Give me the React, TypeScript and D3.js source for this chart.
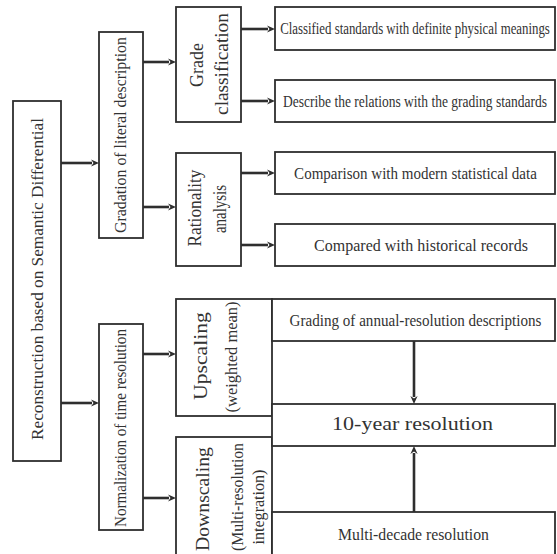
import React, { useLayoutEffect, useRef } from 'react';
import * as d3 from 'd3';

// Labels of the flowchart, level by level
const rootLabel = ['Reconstruction based on Semantic Differential'];
const branchLabels = ['Gradation of literal description', 'Normalization of time resolution'];
const methodLabels = [
  ['Grade', 'classification'],
  ['Rationality', 'analysis'],
  ['Upscaling', '(weighted mean)'],
  ['Downscaling', '(Multi-resolution', 'integration)'],
];
const leafLabels = [
  'Classified standards with definite physical meanings',
  'Describe the relations with the grading standards',
  'Comparison with modern statistical data',
  'Compared with historical records',
];
const resolutionLabels = [
  'Grading of annual-resolution descriptions',
  '10-year resolution',
  'Multi-decade resolution',
];

const W = 557;
const H = 554;
const INK = '#2e2e2e';
const FONT = "'Liberation Serif', 'Times New Roman', Times, serif";

type Box = { x0: number; x1: number; y0: number; y1: number };

// layout (pixels)
const rootBox: Box = { x0: 13, x1: 61, y0: 101, y1: 461 };
const branchBoxes: Box[] = [
  { x0: 99, x1: 143, y0: 32, y1: 238 },
  { x0: 99, x1: 143, y0: 324, y1: 530 },
];
const methodBoxes: Box[] = [
  { x0: 176, x1: 241, y0: 7, y1: 122 },
  { x0: 176, x1: 241, y0: 153, y1: 266 },
  { x0: 176, x1: 272, y0: 299, y1: 416 },
  { x0: 176, x1: 272, y0: 437, y1: 570 },
];
const leafBoxes: Box[] = [
  { x0: 275, x1: 555, y0: 7, y1: 50 },
  { x0: 275, x1: 555, y0: 80, y1: 122 },
  { x0: 275, x1: 555, y0: 152, y1: 194 },
  { x0: 275, x1: 555, y0: 224, y1: 266 },
];
const resolutionBoxes: Box[] = [
  { x0: 272, x1: 555, y0: 299, y1: 341 },
  { x0: 272, x1: 555, y0: 404, y1: 446 },
  { x0: 272, x1: 555, y0: 512, y1: 570 },
];

// vertical text: [centerX, centerY, length, fontSize]
const rootText = [[37, 279, 322, 17]];
const branchText = [
  [[121, 135, 196, 16]],
  [[121, 428, 198, 16]],
];
const methodText = [
  [[197, 65, 44, 18], [222, 64, 102, 18]],
  [[195, 208, 77, 18], [220, 209, 48, 18]],
  [[201, 356, 88, 19], [232, 357, 111, 16]],
  [[203, 499, 104, 19], [238, 497, 108, 16], [259, 507, 75, 16]],
];
// horizontal text: [centerX, centerY, length, fontSize]
const leafText = [
  [415, 28.5, 270, 17],
  [415, 101, 264, 17],
  [415.5, 173, 243, 17],
  [421, 245, 214, 17],
];
const resolutionText = [
  [415.5, 320, 252, 17],
  [412.5, 424, 161, 19],
  [413.5, 534, 151, 17],
];

// arrows: [x0, y0, x1, y1]
const arrows = [
  [61, 163, 99, 163],
  [61, 403, 99, 403],
  [143, 62, 176, 62],
  [143, 207, 176, 207],
  [143, 354, 176, 354],
  [143, 498, 176, 498],
  [241, 29, 275, 29],
  [241, 101, 275, 101],
  [241, 173, 275, 173],
  [241, 245, 275, 245],
  [414, 341, 414, 404],
  [414, 512, 414, 446],
];

const line = d3.line<[number, number]>();

const Arrow: React.FC<{ a: number[] }> = ({ a }) => {
  const [x0, y0, x1, y1] = a;
  const ang = Math.atan2(y1 - y0, x1 - x0);
  const hl = 8;
  const hw = 3.6;
  const bx = x1 - hl * Math.cos(ang);
  const by = y1 - hl * Math.sin(ang);
  const px = -Math.sin(ang) * hw;
  const py = Math.cos(ang) * hw;
  const head = line([
    [x1, y1],
    [bx + px, by + py],
    [bx + 2.5 * Math.cos(ang), by + 2.5 * Math.sin(ang)],
    [bx - px, by - py],
  ])! + 'Z';
  return (
    <g>
      <path d={line([[x0, y0], [bx + Math.cos(ang), by + Math.sin(ang)]])!} stroke={INK} strokeWidth={2.6} fill="none" />
      <path d={head} fill={INK} stroke="none" />
    </g>
  );
};

const Rect: React.FC<{ b: Box }> = ({ b }) => (
  <rect x={b.x0} y={b.y0} width={b.x1 - b.x0} height={b.y1 - b.y0} fill="#fff" stroke={INK} strokeWidth={1.8} />
);

// text is squeezed horizontally after measuring (see effect below)
const Label: React.FC<{ t: number[]; s: string; vertical?: boolean }> = ({ t, s, vertical }) => {
  const [cx, cy, len, fs] = t;
  return (
    <text
      className="lbl"
      data-cx={cx}
      data-cy={cy}
      data-len={len}
      data-rot={vertical ? -90 : 0}
      transform={`translate(${cx},${cy})${vertical ? ' rotate(-90)' : ''}`}
      textAnchor="middle"
      dy="0.33em"
      style={{ fontFamily: FONT, fontSize: fs + 'px' }}
      fill="#333"
    >
      {s}
    </text>
  );
};

export default function App() {
  const svgRef = useRef<SVGSVGElement>(null);

  useLayoutEffect(() => {
    if (!svgRef.current) return;
    d3.select(svgRef.current)
      .selectAll<SVGTextElement, unknown>('text.lbl')
      .each(function () {
        const el = d3.select(this);
        const natural = this.getComputedTextLength();
        const len = +el.attr('data-len');
        const k = natural > 0 ? len / natural : 1;
        const rot = +el.attr('data-rot');
        el.attr(
          'transform',
          `translate(${el.attr('data-cx')},${el.attr('data-cy')})${rot ? ` rotate(${rot})` : ''} scale(${k},1)`
        );
      });
  }, []);

  return (
    <svg ref={svgRef} width={W} height={H} style={{ position: 'absolute', left: 0, top: 0, background: '#fff' }}>
      <Rect b={rootBox} />
      {branchBoxes.map((b, i) => <Rect key={'b' + i} b={b} />)}
      {methodBoxes.map((b, i) => <Rect key={'m' + i} b={b} />)}
      {leafBoxes.map((b, i) => <Rect key={'l' + i} b={b} />)}
      {resolutionBoxes.map((b, i) => <Rect key={'r' + i} b={b} />)}

      {rootLabel.map((s, i) => <Label key={'rt' + i} t={rootText[i]} s={s} vertical />)}
      {branchLabels.map((s, i) => <Label key={'bt' + i} t={branchText[i][0]} s={s} vertical />)}
      {methodLabels.map((lines, i) =>
        lines.map((s, j) => <Label key={`mt${i}-${j}`} t={methodText[i][j]} s={s} vertical />)
      )}
      {leafLabels.map((s, i) => <Label key={'lt' + i} t={leafText[i]} s={s} />)}
      {resolutionLabels.map((s, i) => <Label key={'rs' + i} t={resolutionText[i]} s={s} />)}

      {arrows.map((a, i) => <Arrow key={'a' + i} a={a} />)}
    </svg>
  );
}
